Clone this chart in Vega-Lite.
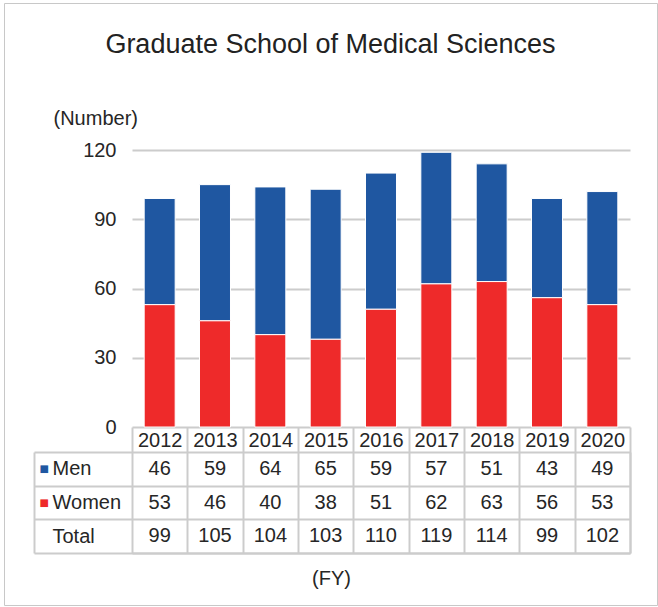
{
  "$schema": "https://vega.github.io/schema/vega-lite/v6.json",
  "width": 653,
  "height": 602,
  "autosize": {"type": "none"},
  "padding": {"left": 4, "top": 3, "right": 1, "bottom": 2},
  "background": "white",
  "config": {
    "view": {"stroke": "#c8c8c8", "strokeWidth": 1},
    "font": "Liberation Sans",
    "axis": {"labelFont": "Liberation Sans", "titleFont": "Liberation Sans"}
  },
  "title": {
    "text": "Graduate School of Medical Sciences",
    "font": "Liberation Sans",
    "fontSize": 27,
    "fontWeight": "normal",
    "color": "#222222",
    "anchor": "middle",
    "baseline": "alphabetic",
    "offset": -87
  },
  "data": {
    "values": [
      {"year": "2012", "group": "Men", "n": 46},
      {"year": "2012", "group": "Women", "n": 53},
      {"year": "2012", "group": "Total", "n": 99},
      {"year": "2013", "group": "Men", "n": 59},
      {"year": "2013", "group": "Women", "n": 46},
      {"year": "2013", "group": "Total", "n": 105},
      {"year": "2014", "group": "Men", "n": 64},
      {"year": "2014", "group": "Women", "n": 40},
      {"year": "2014", "group": "Total", "n": 104},
      {"year": "2015", "group": "Men", "n": 65},
      {"year": "2015", "group": "Women", "n": 38},
      {"year": "2015", "group": "Total", "n": 103},
      {"year": "2016", "group": "Men", "n": 59},
      {"year": "2016", "group": "Women", "n": 51},
      {"year": "2016", "group": "Total", "n": 110},
      {"year": "2017", "group": "Men", "n": 57},
      {"year": "2017", "group": "Women", "n": 62},
      {"year": "2017", "group": "Total", "n": 119},
      {"year": "2018", "group": "Men", "n": 51},
      {"year": "2018", "group": "Women", "n": 63},
      {"year": "2018", "group": "Total", "n": 114},
      {"year": "2019", "group": "Men", "n": 43},
      {"year": "2019", "group": "Women", "n": 56},
      {"year": "2019", "group": "Total", "n": 99},
      {"year": "2020", "group": "Men", "n": 49},
      {"year": "2020", "group": "Women", "n": 53},
      {"year": "2020", "group": "Total", "n": 102}
    ]
  },
  "encoding": {
    "x": {
      "field": "year", "type": "nominal",
      "scale": {"range": [128, 626], "paddingInner": 0, "paddingOuter": 0},
      "axis": {
        "orient": "top", "offset": -550,
        "tickBand": "extent", "tickSize": 126, "tickColor": "#cccccc", "tickWidth": 2,
        "domain": true, "domainColor": "#cccccc", "domainWidth": 2,
        "grid": false, "labelAngle": 0,
        "labelFontSize": 20, "labelColor": "#262626", "labelPadding": -13, "labelBaseline": "middle",
        "title": "(FY)", "titleFontSize": 20, "titleFontWeight": "normal", "titleColor": "#262626",
        "titleAlign": "center", "titleBaseline": "middle", "titleX": 327, "titleY": 25
      }
    }
  },
  "resolve": {"scale": {"y": "independent"}, "axis": {"y": "independent"}},
  "layer": [
    {
      "transform": [{"filter": "datum.group !== 'Total'"}],
      "mark": {"type": "bar", "width": {"band": 0.56}, "stroke": "#ffffff", "strokeWidth": 1},
      "encoding": {
        "y": {
          "field": "n", "type": "quantitative", "stack": "zero",
          "scale": {"domain": [0, 120], "range": [424, 147], "nice": false},
          "axis": {
            "orient": "left", "offset": -626,
            "values": [0, 30, 60, 90, 120],
            "domain": false, "grid": false,
            "ticks": true, "tickSize": 498, "tickColor": "#cccccc", "tickWidth": 2,
            "labelFontSize": 20, "labelColor": "#262626", "labelPadding": 16,
            "title": "(Number)", "titleAngle": 0, "titleFontSize": 20, "titleFontWeight": "normal",
            "titleColor": "#262626", "titleAlign": "left", "titleBaseline": "alphabetic",
            "titleX": -577, "titleY": 121
          }
        },
        "color": {
          "field": "group", "type": "nominal",
          "scale": {"domain": ["Men", "Women"], "range": ["#1f57a1", "#ee2a2a"]},
          "legend": null
        },
        "order": {"field": "group", "sort": "descending"}
      }
    },
    {
      "mark": {"type": "text", "fontSize": 20, "color": "#262626", "font": "Liberation Sans", "baseline": "middle", "align": "center"},
      "encoding": {
        "y": {
          "field": "group", "type": "nominal",
          "sort": ["Men", "Women", "Total"],
          "scale": {"range": [449, 550], "paddingInner": 0, "paddingOuter": 0},
          "axis": {
            "orient": "left", "offset": -626,
            "tickBand": "extent", "tickSize": 596, "tickColor": "#cccccc", "tickWidth": 2,
            "domain": true, "domainColor": "#cccccc", "domainWidth": 2,
            "grid": false,
            "labelFontSize": 20, "labelColor": "#262626", "labelAlign": "left", "labelPadding": -18,
            "labelBaseline": "middle",
            "title": null
          }
        },
        "text": {"field": "n", "type": "quantitative"}
      }
    },
    {
      "mark": {"type": "text", "opacity": 0},
      "encoding": {
        "y": {
          "field": "group", "type": "nominal",
          "sort": ["Men", "Women", "Total"],
          "scale": {"range": [449, 550], "paddingInner": 0, "paddingOuter": 0},
          "axis": {
            "orient": "left", "offset": -30,
            "ticks": false, "grid": false,
            "domain": true, "domainColor": "#cccccc", "domainWidth": 2,
            "labelExpr": "datum.value === 'Total' ? '' : '■'",
            "labelFont": "DejaVu Sans", "labelFontSize": 10,
            "labelAlign": "left", "labelPadding": -5, "labelBaseline": "middle",
            "labelColor": {"condition": {"test": "datum.value === 'Men'", "value": "#1f57a1"}, "value": "#ee2a2a"},
            "title": null
          }
        },
        "text": {"value": ""}
      }
    }
  ]
}
